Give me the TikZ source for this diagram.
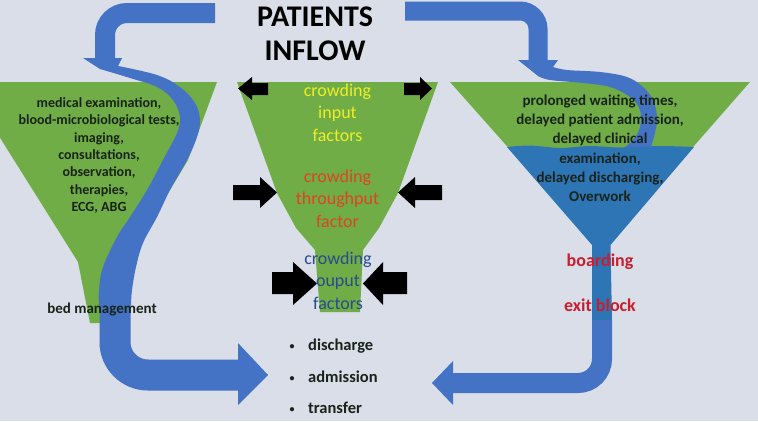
\documentclass[tikz,border=0pt]{standalone}
\usepackage{fontspec}
\setmainfont{Carlito}
\definecolor{bgc}{RGB}{217,222,232}
\definecolor{fgreen}{RGB}{112,173,71}
\definecolor{ablue}{RGB}{68,114,196}
\definecolor{liq}{RGB}{46,117,182}
\definecolor{ytxt}{RGB}{238,238,40}
\definecolor{rtxt}{RGB}{222,68,32}
\definecolor{btxt}{RGB}{40,75,140}
\definecolor{boardred}{RGB}{200,30,45}
\definecolor{darktxt}{RGB}{25,35,25}
\newcommand{\smbullet}{\makebox[20pt][l]{\hspace{1.5pt}\raisebox{1pt}{\fontsize{10}{10}\selectfont •}}}
\begin{document}
\begin{tikzpicture}[x=1pt,y=-1pt,
  lefttxt/.style={font=\bfseries\fontsize{14}{17.3}\selectfont, text=darktxt, align=center, inner sep=0pt},
  righttxt/.style={font=\bfseries\fontsize{15}{19.2}\selectfont, text=darktxt, align=center, inner sep=0pt},
  midtxt/.style={font=\fontsize{18}{22.5}\selectfont, align=center, inner sep=0pt},
  redtxt/.style={font=\bfseries\fontsize{18}{22}\selectfont, text=boardred, inner sep=0pt},
  blackarrow/.style={fill=black},
  flow/.style={draw=ablue},
]
\fill[bgc] (0,0) rectangle (758,421);
\useasboundingbox (0,0) rectangle (758,421);
\begin{scope}
\clip (0,0) rectangle (758,421);
% funnels
\fill[fgreen] (-35,82) -- (217,82) -- (188,160) -- (125,265) -- (105,323) -- (90,323) -- (78,262) -- cycle;
\fill[fgreen] (237,82) -- (438,82) -- (398,193) -- (379,228) -- (363,250) -- (360,312) -- (320,312) -- (315,250) -- (296,228) -- (277,193) -- cycle;
\fill[fgreen] (450,82) -- (750,82) -- (601,252) -- cycle;
% black block arrows
\fill[blackarrow] (268,83) -- (252,83) -- (252,77) -- (238,88.5) -- (252,100) -- (252,95) -- (268,95) -- cycle;
\fill[blackarrow] (404,83) -- (420,83) -- (420,77) -- (432,88.5) -- (420,100) -- (420,95) -- (404,95) -- cycle;
\fill[blackarrow] (233,185) -- (260,185) -- (260,177) -- (277,192.5) -- (260,208) -- (260,200) -- (233,200) -- cycle;
\fill[blackarrow] (442,185) -- (415,185) -- (415,177) -- (398,192.5) -- (415,208) -- (415,200) -- (442,200) -- cycle;
\fill[blackarrow] (272,272) -- (293,272) -- (293,262) -- (317,283.5) -- (293,305) -- (293,294) -- (272,294) -- cycle;
\fill[blackarrow] (407,272) -- (383,272) -- (383,262) -- (363,283.5) -- (383,305) -- (383,294) -- (407,294) -- cycle;
% left flow
\draw[flow, line width=20pt, rounded corners=22pt] (215,13) -- (105,13) -- (105,59);
\fill[ablue] (83,58) -- (122,58) -- plot[smooth, tension=0.6] coordinates {(118,66) (157,75) (180,87) (195,103) (200,120) (197,137) (187,160) (170,190) (157,217) (143,243) (136,267) (132,290) (131,305)} -- plot[smooth, tension=0.6] coordinates {(99,305) (99,290) (103,267) (117,237) (130,217) (147,190) (163,160) (177,133) (180,117) (173,100) (157,87) (130,78) (100,69)} -- cycle;
\draw[flow, line width=31pt, rounded corners=33pt] (115,300) -- (115,375) -- (239,375);
\fill[ablue] (238,343) -- (268,375) -- (238,405) -- cycle;
% right flow
\draw[flow, line width=19pt, rounded corners=18pt] (405,11) -- (538,11) -- (538,61);
\fill[ablue] (518,60) -- (558,60) -- plot[smooth, tension=0.6] coordinates {(553,67) (567,70) (600,72) (627,77) (643,87) (653,100) (657,117) (655,133) (650,150)} -- plot[smooth, tension=0.6] coordinates {(621,150) (633,140) (640,127) (640,110) (630,97) (610,87) (583,83) (550,80) (538,76)} -- cycle;
\fill[liq] plot[smooth] coordinates {(507,147) (530,145.5) (560,148) (590,146) (620,147.5) (660,146) (694,147)} -- (610.5,245) -- (612,321) -- (592,321) -- (592,245) -- cycle;
\draw[flow, line width=20pt, rounded corners=24pt] (602,320) -- (602,383) -- (452,383);
\fill[ablue] (453,361) -- (432,383) -- (453,405) -- cycle;
\end{scope}
% texts
\node[font=\bfseries\fontsize{30}{34}\selectfont, align=center, inner sep=0pt, text=black] (title) at (315,34.2) {PATIENTS\\INFLOW};
\node[lefttxt] (leftlist) at (99,155.5) {medical examination,\\blood-microbiological tests,\\imaging,\\consultations,\\observation,\\therapies,\\ECG, ABG};
\node[lefttxt, font=\bfseries\fontsize{15}{17}\selectfont] (bed) at (102,310) {bed management};
\node[midtxt, text=ytxt] (input) at (337.5,112.5) {crowding\\input\\factors};
\node[midtxt, text=rtxt] (through) at (337.5,198.5) {crowding\\throughput\\factor};
\node[midtxt, text=btxt] (output) at (338,280.5) {crowding\\ouput\\factors};
\node[righttxt] (rightlist) at (600,148.3) {prolonged waiting times,\\delayed patient admission,\\delayed clinical\\examination,\\delayed discharging,\\Overwork};
\node[redtxt] (boarding) at (600,261.5) {boarding};
\node[redtxt] (exit) at (600,304.8) {exit block};
\node[font=\bfseries\fontsize{16.5}{31.5}\selectfont, align=left, inner sep=0pt, text=darktxt, anchor=west] (outcomes) at (288,376.6) {\smbullet discharge\\\smbullet admission\\\smbullet transfer};
\end{tikzpicture}
\end{document}
